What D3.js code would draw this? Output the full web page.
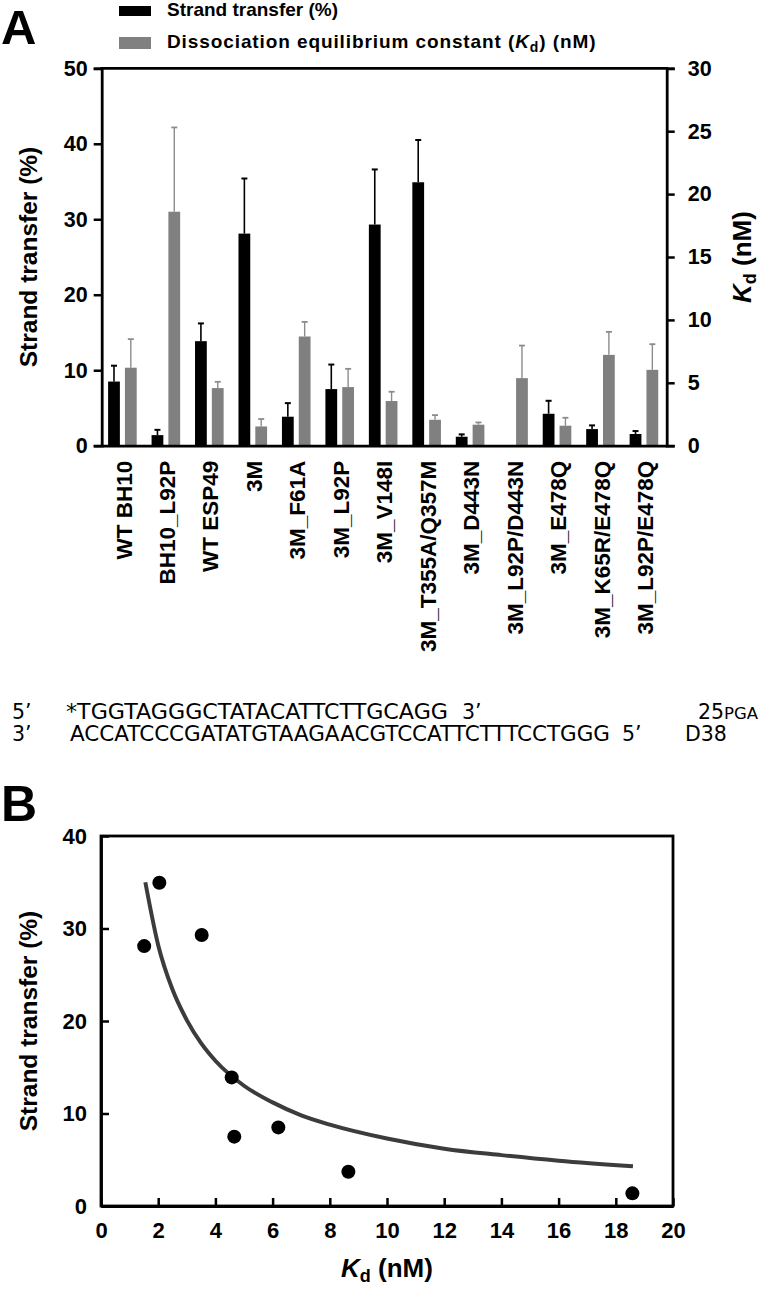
<!DOCTYPE html>
<html><head><meta charset="utf-8">
<script src="https://cdn.jsdelivr.net/npm/d3@7"></script>
<style>
html,body{margin:0;padding:0;background:#fff;}
svg{display:block;font-family:"Liberation Sans",Arial,sans-serif;}
</style></head>
<body>
<svg id="chart" width="760" height="1289"></svg>
<script>
// ---------- DATA ----------
const categories = ["WT BH10","BH10_L92P","WT ESP49","3M","3M_F61A","3M_L92P","3M_V148I",
  "3M_T355A/Q357M","3M_D443N","3M_L92P/D443N","3M_E478Q","3M_K65R/E478Q","3M_L92P/E478Q"];
const strandTransfer    = [8.5, 1.4, 13.85, 28.1, 3.84, 7.5, 29.3, 34.9, 1.19, 0, 4.23, 2.2, 1.55];
const strandTransferErr = [2.1, 0.7, 2.35, 7.3, 1.8, 3.25, 7.3, 5.6, 0.31, 0, 1.72, 0.49, 0.39];
const kdValues          = [6.2, 18.6, 4.58, 1.53, 8.68, 4.66, 3.55, 2.06, 1.67, 5.37, 1.59, 7.22, 6.03];
const kdErr             = [2.27, 6.7, 0.5, 0.59, 1.16, 1.45, 0.74, 0.37, 0.18, 2.59, 0.63, 1.83, 2.04];
const leftTicks  = [0, 10, 20, 30, 40, 50];
const rightTicks = [0, 5, 10, 15, 20, 25, 30];

const scatterKd = [1.51, 2.04, 3.52, 4.57, 4.66, 6.2, 8.65, 18.58];
const scatterST = [28.1, 34.95, 29.3, 13.9, 7.5, 8.5, 3.7, 1.37];
const fitKd = [1.55, 2.0, 2.5, 3.0, 3.5, 4.0, 5.0, 6.0, 7.0, 8.0, 10.0, 12.0, 14.0, 16.0, 18.6];
const fitST = [35.0, 28.2, 23.4, 20.1, 17.6, 15.7, 13.0, 11.2, 9.8, 8.8, 7.3, 6.2, 5.5, 4.9, 4.3];
const bXTicks = [0, 2, 4, 6, 8, 10, 12, 14, 16, 18, 20];
const bYTicks = [0, 10, 20, 30, 40];

const seqTop = "*TGGTAGGGCTATACATTCTTGCAGG";
const seqBottom = "ACCATCCCGATATGTAAGAACGTCCATTCTTTCCTGGG";

// ---------- PANEL A ----------
const svg = d3.select("#chart");
const A = {left: 101.7, right: 666.7, top: 68.3, bottom: 445.7};
const x0 = d3.scaleBand().domain(categories).range([A.left, A.right]).paddingInner(0).paddingOuter(0);
const x1 = d3.scaleBand().domain(["st","kd"]).range([6.4, 35]).paddingInner(0.3).paddingOuter(0);
const yL = d3.scaleLinear().domain([0, 50]).range([A.bottom, A.top]);
const yR = d3.scaleLinear().domain([0, 30]).range([A.bottom, A.top]);

svg.append("text").attr("x", 1).attr("y", 44.4).attr("font-size", 49).attr("font-weight", "bold").text("A");

// legend
const leg = svg.append("g");
leg.append("rect").attr("x", 119).attr("y", 6).attr("width", 32).attr("height", 10).attr("fill", "#000");
leg.append("rect").attr("x", 119).attr("y", 37).attr("width", 32).attr("height", 12).attr("fill", "#808080");
leg.append("text").attr("x", 167).attr("y", 16).attr("font-size", 19).attr("font-weight", "bold").text("Strand transfer (%)");
const lt2 = leg.append("text").attr("x", 167).attr("y", 48).attr("font-size", 19).attr("font-weight", "bold")
  .attr("letter-spacing", 0.9);
lt2.append("tspan").text("Dissociation equilibrium constant (");
lt2.append("tspan").attr("font-style", "italic").text("K");
lt2.append("tspan").attr("font-size", 14).attr("dy", 4).text("d");
lt2.append("tspan").attr("dy", -4).text(") (nM)");

const gA = svg.append("g");
// bars
categories.forEach((c, i) => {
  const cx = x0(c);
  if (strandTransfer[i] > 0) {
    const bx = cx + x1("st"), bw = x1.bandwidth();
    gA.append("rect").attr("x", bx).attr("y", yL(strandTransfer[i]))
      .attr("width", bw).attr("height", yL(0) - yL(strandTransfer[i])).attr("fill", "#000");
    const ex = bx + bw / 2;
    gA.append("line").attr("x1", ex).attr("x2", ex).attr("y1", yL(strandTransfer[i]))
      .attr("y2", yL(strandTransfer[i] + strandTransferErr[i])).attr("stroke", "#000").attr("stroke-width", 1.6);
    gA.append("line").attr("x1", ex - 3).attr("x2", ex + 3).attr("y1", yL(strandTransfer[i] + strandTransferErr[i]))
      .attr("y2", yL(strandTransfer[i] + strandTransferErr[i])).attr("stroke", "#000").attr("stroke-width", 2);
  }
  const gx = cx + x1("kd"), gw = x1.bandwidth();
  gA.append("rect").attr("x", gx).attr("y", yR(kdValues[i]))
    .attr("width", gw).attr("height", yR(0) - yR(kdValues[i])).attr("fill", "#808080");
  const ex = gx + gw / 2;
  gA.append("line").attr("x1", ex).attr("x2", ex).attr("y1", yR(kdValues[i]))
    .attr("y2", yR(kdValues[i] + kdErr[i])).attr("stroke", "#8c8c8c").attr("stroke-width", 1.4);
  gA.append("line").attr("x1", ex - 3).attr("x2", ex + 3).attr("y1", yR(kdValues[i] + kdErr[i]))
    .attr("y2", yR(kdValues[i] + kdErr[i])).attr("stroke", "#8c8c8c").attr("stroke-width", 1.8);
});

// axes A
const axL = d3.axisLeft(yL).tickValues(leftTicks).tickSize(8).tickPadding(6).tickFormat(d3.format("d"));
const axR = d3.axisRight(yR).tickValues(rightTicks).tickSize(8).tickPadding(13).tickFormat(d3.format("d"));
const gL = svg.append("g").attr("transform", `translate(${A.left},0)`).call(axL);
const gR = svg.append("g").attr("transform", `translate(${A.right},0)`).call(axR);
[gL, gR].forEach(g => {
  g.select(".domain").attr("stroke-width", 2.8);
  g.selectAll(".tick line").attr("stroke-width", 2.5);
  g.selectAll(".tick text").attr("font-size", 21.5).attr("font-weight", "bold").attr("fill", "#000")
    .attr("font-family", "Liberation Sans, Arial, sans-serif");
});
// top & bottom lines
svg.append("line").attr("x1", A.left - 1.4).attr("x2", A.right + 1.4).attr("y1", A.top).attr("y2", A.top)
  .attr("stroke", "#000").attr("stroke-width", 2.8);
const axB = d3.axisBottom(x0).tickSize(0).tickPadding(10);
const gB = svg.append("g").attr("transform", `translate(0,${A.bottom})`).call(axB);
gB.select(".domain").attr("stroke-width", 2.8);
gB.selectAll(".tick text").attr("font-size", 22.5).attr("font-weight", "bold").attr("fill", "#000")
  .attr("font-family", "Liberation Sans, Arial, sans-serif")
  .attr("transform", "rotate(-90)").attr("text-anchor", "end")
  .attr("x", -15).attr("y", 0).attr("dy", "0.36em");

// axis titles A
svg.append("text").attr("transform", `translate(37,${(A.top + A.bottom) / 2}) rotate(-90)`)
  .attr("text-anchor", "middle").attr("font-size", 24.5).attr("font-weight", "bold").text("Strand transfer (%)");
const rt = svg.append("text").attr("transform", `translate(751,${(A.top + A.bottom) / 2}) rotate(-90)`)
  .attr("text-anchor", "middle").attr("font-size", 26).attr("font-weight", "bold");
rt.append("tspan").attr("font-style", "italic").text("K");
rt.append("tspan").attr("font-size", 18).attr("dy", 5).text("d");
rt.append("tspan").attr("dy", -5).text(" (nM)");

// ---------- SEQUENCE ----------
const seqFont = "DejaVu Sans, sans-serif";
const sq = svg.append("g").attr("font-family", seqFont).attr("font-size", 20.5).attr("fill", "#000");
sq.append("text").attr("x", 12).attr("y", 719).text("5’");
sq.append("text").attr("x", 66).attr("y", 719).attr("textLength", 382).attr("lengthAdjust", "spacingAndGlyphs").text(seqTop);
sq.append("text").attr("x", 462).attr("y", 719).text("3’");
const pga = sq.append("text").attr("x", 758).attr("y", 719).attr("text-anchor", "end");
pga.append("tspan").text("25");
pga.append("tspan").attr("font-size", 16.5).text("PGA");
sq.append("text").attr("x", 12).attr("y", 741).text("3’");
sq.append("text").attr("x", 70).attr("y", 741).attr("textLength", 540).attr("lengthAdjust", "spacingAndGlyphs").text(seqBottom);
sq.append("text").attr("x", 622).attr("y", 741).text("5’");
sq.append("text").attr("x", 685).attr("y", 741).text("D38");

// ---------- PANEL B ----------
svg.append("text").attr("x", 1).attr("y", 821).attr("font-size", 50).attr("font-weight", "bold").text("B");
const B = {left: 101, right: 673, top: 836, bottom: 1206};
const xB = d3.scaleLinear().domain([0, 20]).range([B.left, B.right]);
const yB = d3.scaleLinear().domain([0, 40]).range([B.bottom, B.top]);

svg.append("rect").attr("x", B.left).attr("y", B.top).attr("width", B.right - B.left).attr("height", B.bottom - B.top)
  .attr("fill", "none").attr("stroke", "#000").attr("stroke-width", 2.8);

const axBX = d3.axisBottom(xB).tickValues(bXTicks).tickSizeInner(-8).tickSizeOuter(0).tickPadding(16).tickFormat(d3.format("d"));
const axBY = d3.axisLeft(yB).tickValues(bYTicks).tickSizeInner(-8).tickSizeOuter(0).tickPadding(14).tickFormat(d3.format("d"));
const gBX = svg.append("g").attr("transform", `translate(0,${B.bottom})`).call(axBX);
const gBY = svg.append("g").attr("transform", `translate(${B.left},0)`).call(axBY);
[gBX, gBY].forEach(g => {
  g.select(".domain").attr("stroke-width", 2.8);
  g.selectAll(".tick line").attr("stroke-width", 2.5);
  g.selectAll(".tick text").attr("font-size", 22).attr("font-weight", "bold").attr("fill", "#000")
    .attr("font-family", "Liberation Sans, Arial, sans-serif");
});

// fit curve
const line = d3.line().x((d, i) => xB(fitKd[i])).y((d, i) => yB(fitST[i])).curve(d3.curveMonotoneX);
svg.append("path").attr("d", line(fitKd)).attr("fill", "none").attr("stroke", "#3c3c3c").attr("stroke-width", 4);

// points
svg.append("g").selectAll("circle").data(scatterKd).join("circle")
  .attr("cx", (d) => xB(d)).attr("cy", (d, i) => yB(scatterST[i])).attr("r", 7).attr("fill", "#000");

// axis titles B
svg.append("text").attr("transform", `translate(37,${(B.top + B.bottom) / 2}) rotate(-90)`)
  .attr("text-anchor", "middle").attr("font-size", 24.5).attr("font-weight", "bold").text("Strand transfer (%)");
const bt = svg.append("text").attr("x", (B.left + B.right) / 2).attr("y", 1277)
  .attr("text-anchor", "middle").attr("font-size", 26).attr("font-weight", "bold");
bt.append("tspan").attr("font-style", "italic").text("K");
bt.append("tspan").attr("font-size", 18).attr("dy", 5).text("d");
bt.append("tspan").attr("dy", -5).text(" (nM)");
</script>
</body></html>
